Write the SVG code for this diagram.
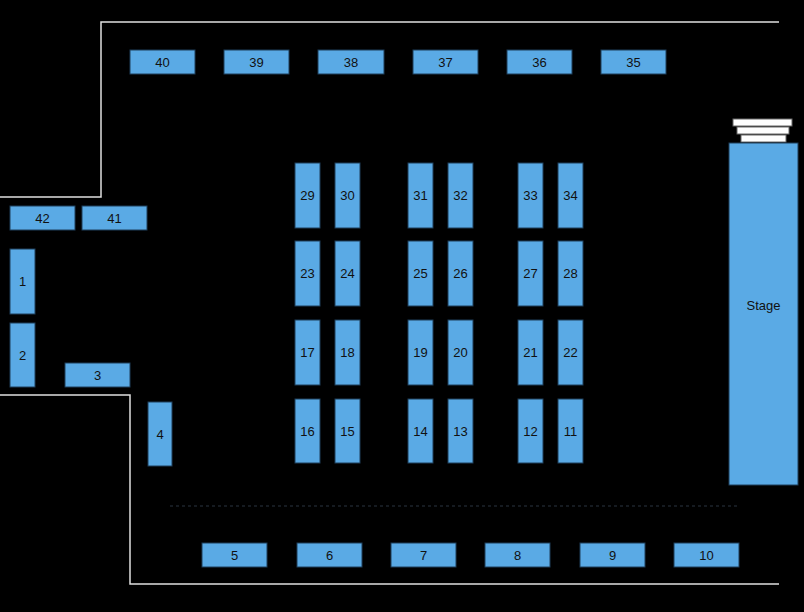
<svg xmlns="http://www.w3.org/2000/svg" width="804" height="612" viewBox="0 0 804 612">
<style>
.t{fill:#5aaae5;stroke:#1f3f5a;stroke-width:1}
.l{font-family:"Liberation Sans",Arial,sans-serif;font-size:13px;fill:#111;text-anchor:middle;dominant-baseline:central}
.w{fill:none;stroke:#e0e0e0;stroke-width:1.5}
.s{fill:#fff;stroke:#666;stroke-width:1}
</style>
<rect width="804" height="612" fill="#000"/>
<g id="walls">
<polyline class="w" points="0,197 101,197 101,22 779,22"/>
<polyline class="w" points="0,395 130,395 130,584 779,584"/>
<line x1="170" y1="506" x2="737" y2="506" stroke="#2a3440" stroke-width="1" stroke-dasharray="3,3"/>
</g>
<g id="stage">
<rect class="s" x="733" y="119" width="59" height="7"/>
<rect class="s" x="737" y="127" width="52" height="7"/>
<rect class="s" x="741" y="135" width="45" height="7"/>
<rect class="t" x="729" y="143" width="69" height="342"/>
<text class="l" x="763.5" y="305" font-size="15">Stage</text>
</g>
<g id="n40"><rect class="t" x="130" y="50" width="65" height="24"/><text class="l" x="162.5" y="62">40</text></g>
<g id="n39"><rect class="t" x="224" y="50" width="65" height="24"/><text class="l" x="256.5" y="62">39</text></g>
<g id="n38"><rect class="t" x="318" y="50" width="66" height="24"/><text class="l" x="351" y="62">38</text></g>
<g id="n37"><rect class="t" x="413" y="50" width="65" height="24"/><text class="l" x="445.5" y="62">37</text></g>
<g id="n36"><rect class="t" x="507" y="50" width="65" height="24"/><text class="l" x="539.5" y="62">36</text></g>
<g id="n35"><rect class="t" x="601" y="50" width="65" height="24"/><text class="l" x="633.5" y="62">35</text></g>
<g id="n5"><rect class="t" x="202" y="543" width="65" height="24"/><text class="l" x="234.5" y="555">5</text></g>
<g id="n6"><rect class="t" x="297" y="543" width="65" height="24"/><text class="l" x="329.5" y="555">6</text></g>
<g id="n7"><rect class="t" x="391" y="543" width="65" height="24"/><text class="l" x="423.5" y="555">7</text></g>
<g id="n8"><rect class="t" x="485" y="543" width="65" height="24"/><text class="l" x="517.5" y="555">8</text></g>
<g id="n9"><rect class="t" x="580" y="543" width="65" height="24"/><text class="l" x="612.5" y="555">9</text></g>
<g id="n10"><rect class="t" x="674" y="543" width="65" height="24"/><text class="l" x="706.5" y="555">10</text></g>
<g id="n42"><rect class="t" x="10" y="206" width="65" height="24"/><text class="l" x="42.5" y="218">42</text></g>
<g id="n41"><rect class="t" x="82" y="206" width="65" height="24"/><text class="l" x="114.5" y="218">41</text></g>
<g id="n1"><rect class="t" x="10" y="249" width="25" height="65"/><text class="l" x="22.5" y="281.5">1</text></g>
<g id="n2"><rect class="t" x="10" y="323" width="25" height="64"/><text class="l" x="22.5" y="355">2</text></g>
<g id="n3"><rect class="t" x="65" y="363" width="65" height="24"/><text class="l" x="97.5" y="375">3</text></g>
<g id="n4"><rect class="t" x="148" y="402" width="24" height="64"/><text class="l" x="160" y="434">4</text></g>
<g id="n29"><rect class="t" x="295" y="163" width="25" height="65"/><text class="l" x="307.5" y="195.5">29</text></g>
<g id="n30"><rect class="t" x="335" y="163" width="25" height="65"/><text class="l" x="347.5" y="195.5">30</text></g>
<g id="n31"><rect class="t" x="408" y="163" width="25" height="65"/><text class="l" x="420.5" y="195.5">31</text></g>
<g id="n32"><rect class="t" x="448" y="163" width="25" height="65"/><text class="l" x="460.5" y="195.5">32</text></g>
<g id="n33"><rect class="t" x="518" y="163" width="25" height="65"/><text class="l" x="530.5" y="195.5">33</text></g>
<g id="n34"><rect class="t" x="558" y="163" width="25" height="65"/><text class="l" x="570.5" y="195.5">34</text></g>
<g id="n23"><rect class="t" x="295" y="241" width="25" height="65"/><text class="l" x="307.5" y="273.5">23</text></g>
<g id="n24"><rect class="t" x="335" y="241" width="25" height="65"/><text class="l" x="347.5" y="273.5">24</text></g>
<g id="n25"><rect class="t" x="408" y="241" width="25" height="65"/><text class="l" x="420.5" y="273.5">25</text></g>
<g id="n26"><rect class="t" x="448" y="241" width="25" height="65"/><text class="l" x="460.5" y="273.5">26</text></g>
<g id="n27"><rect class="t" x="518" y="241" width="25" height="65"/><text class="l" x="530.5" y="273.5">27</text></g>
<g id="n28"><rect class="t" x="558" y="241" width="25" height="65"/><text class="l" x="570.5" y="273.5">28</text></g>
<g id="n17"><rect class="t" x="295" y="320" width="25" height="65"/><text class="l" x="307.5" y="352.5">17</text></g>
<g id="n18"><rect class="t" x="335" y="320" width="25" height="65"/><text class="l" x="347.5" y="352.5">18</text></g>
<g id="n19"><rect class="t" x="408" y="320" width="25" height="65"/><text class="l" x="420.5" y="352.5">19</text></g>
<g id="n20"><rect class="t" x="448" y="320" width="25" height="65"/><text class="l" x="460.5" y="352.5">20</text></g>
<g id="n21"><rect class="t" x="518" y="320" width="25" height="65"/><text class="l" x="530.5" y="352.5">21</text></g>
<g id="n22"><rect class="t" x="558" y="320" width="25" height="65"/><text class="l" x="570.5" y="352.5">22</text></g>
<g id="n16"><rect class="t" x="295" y="399" width="25" height="64"/><text class="l" x="307.5" y="431">16</text></g>
<g id="n15"><rect class="t" x="335" y="399" width="25" height="64"/><text class="l" x="347.5" y="431">15</text></g>
<g id="n14"><rect class="t" x="408" y="399" width="25" height="64"/><text class="l" x="420.5" y="431">14</text></g>
<g id="n13"><rect class="t" x="448" y="399" width="25" height="64"/><text class="l" x="460.5" y="431">13</text></g>
<g id="n12"><rect class="t" x="518" y="399" width="25" height="64"/><text class="l" x="530.5" y="431">12</text></g>
<g id="n11"><rect class="t" x="558" y="399" width="25" height="64"/><text class="l" x="570.5" y="431">11</text></g>
</svg>
